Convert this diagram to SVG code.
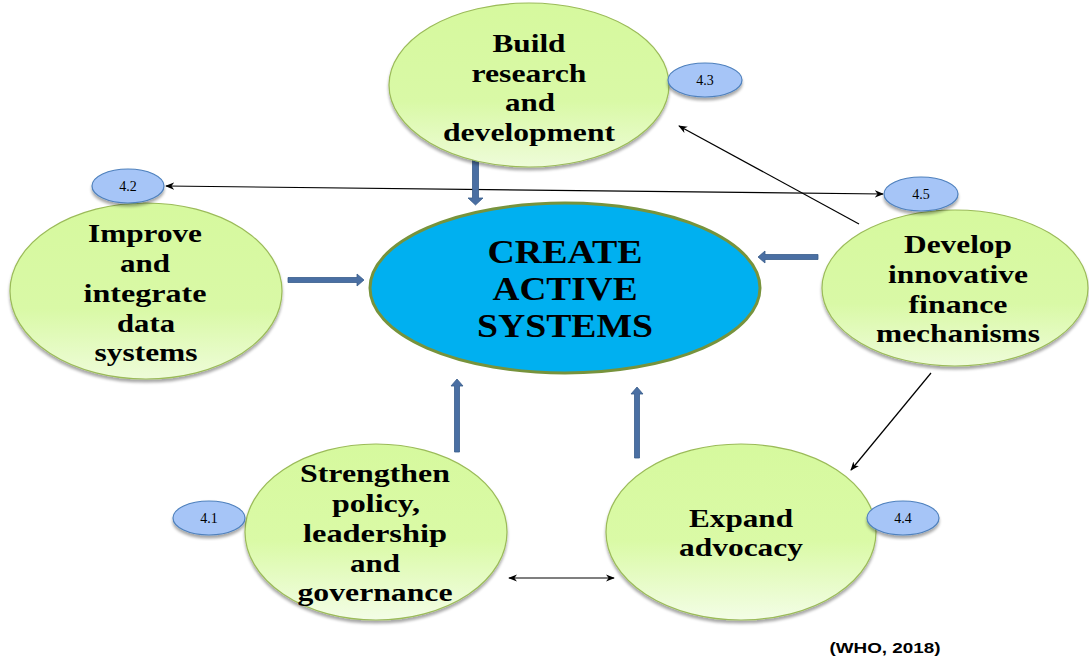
<svg xmlns="http://www.w3.org/2000/svg" width="1089" height="660" viewBox="0 0 1089 660">
<defs>
  <linearGradient id="gTop" x1="0" y1="0" x2="0" y2="1">
    <stop offset="0" stop-color="#d6f99e"/>
    <stop offset="0.6" stop-color="#d9f9a6"/>
    <stop offset="1" stop-color="#eefcd9"/>
  </linearGradient>
  <linearGradient id="gBot" x1="0" y1="0" x2="0" y2="1">
    <stop offset="0" stop-color="#d6f99e"/>
    <stop offset="0.55" stop-color="#dafaa6"/>
    <stop offset="1" stop-color="#f3fde6"/>
  </linearGradient>
  <filter id="sh" x="-10%" y="-10%" width="120%" height="125%">
    <feGaussianBlur in="SourceAlpha" stdDeviation="1.5"/>
    <feOffset dx="0" dy="2.5" result="b"/>
    <feComponentTransfer><feFuncA type="linear" slope="0.35"/></feComponentTransfer>
    <feMerge><feMergeNode/><feMergeNode in="SourceGraphic"/></feMerge>
  </filter>
  <marker id="ah" viewBox="0 0 10 10" refX="9" refY="5" markerWidth="9" markerHeight="9" markerUnits="userSpaceOnUse" orient="auto-start-reverse">
    <path d="M0,1 L10,5 L0,9 L3,5 Z" fill="#000"/>
  </marker>
</defs>
<style>
  .node { fill: url(#gTop); stroke: #9bbb59; stroke-width: 1.2; filter: url(#sh); }
  .nodeb { fill: url(#gBot); stroke: #9bbb59; stroke-width: 1.2; filter: url(#sh); }
  .badge { fill: #a6c5f7; stroke: #4f81bd; stroke-width: 1.2; filter: url(#sh); }
  .t { font-family: "Liberation Serif", "Times New Roman", serif; font-weight: bold; font-size: 25px; fill: #000; text-anchor: middle; }
  .tc { font-family: "Liberation Serif", "Times New Roman", serif; font-weight: bold; font-size: 33px; fill: #000; text-anchor: middle; }
  .tb { font-family: "Liberation Serif", "Times New Roman", serif; font-size: 14px; fill: #000; text-anchor: middle; }
  .thin { stroke: #000; stroke-width: 1.2; fill: none; }
  .blk { fill: #4a6fa3; stroke: #385d8a; stroke-width: 0.8; }
  .src { font-family: "Liberation Sans", Arial, sans-serif; font-weight: bold; font-size: 14px; fill: #000; text-anchor: middle; }
</style>

<g id="connectors">
  <line class="thin" x1="166" y1="186" x2="883" y2="194" marker-start="url(#ah)" marker-end="url(#ah)"/>
  <line class="thin" x1="859" y1="224" x2="679" y2="126" marker-end="url(#ah)"/>
  <line class="thin" x1="931" y1="373" x2="851" y2="470" marker-end="url(#ah)"/>
  <line class="thin" x1="509" y1="578" x2="614" y2="578" marker-start="url(#ah)" marker-end="url(#ah)"/>
  <polygon class="blk" points="472.5,160 478.5,160 478.5,198 483,198 475.5,205 468,198 472.5,198"/>
  <polygon class="blk" points="288,277.5 357,277.5 357,274 364,280 357,286 357,282.5 288,282.5"/>
  <polygon class="blk" points="818,254.5 765,254.5 765,251 758,257 765,263 765,259.5 818,259.5"/>
  <polygon class="blk" points="454.5,452 459.5,452 459.5,386 463,386 457,379 451,386 454.5,386"/>
  <polygon class="blk" points="634.5,458 639.5,458 639.5,394 643,394 637,387 631,394 634.5,394"/>
</g>

<g id="n-build">
  <ellipse class="node" cx="529" cy="85" rx="140" ry="82"/>
  <text class="t" x="529" y="52" textLength="73" lengthAdjust="spacingAndGlyphs">Build</text>
  <text class="t" x="529" y="82" textLength="115" lengthAdjust="spacingAndGlyphs">research</text>
  <text class="t" x="530" y="111" textLength="50" lengthAdjust="spacingAndGlyphs">and</text>
  <text class="t" x="529" y="141" textLength="172" lengthAdjust="spacingAndGlyphs">development</text>
</g>
<g id="b-43">
  <ellipse class="badge" cx="705" cy="80" rx="37" ry="17"/>
  <text class="tb" x="705" y="85">4.3</text>
</g>

<g id="n-improve">
  <ellipse class="node" cx="146" cy="291" rx="136" ry="88"/>
  <text class="t" x="145" y="242" textLength="114" lengthAdjust="spacingAndGlyphs">Improve</text>
  <text class="t" x="145" y="272" textLength="50" lengthAdjust="spacingAndGlyphs">and</text>
  <text class="t" x="145" y="302" textLength="123" lengthAdjust="spacingAndGlyphs">integrate</text>
  <text class="t" x="146" y="332" textLength="58" lengthAdjust="spacingAndGlyphs">data</text>
  <text class="t" x="146" y="361" textLength="103" lengthAdjust="spacingAndGlyphs">systems</text>
</g>
<g id="b-42">
  <ellipse class="badge" cx="128" cy="186" rx="36" ry="17"/>
  <text class="tb" x="128" y="191">4.2</text>
</g>

<g id="n-center">
  <ellipse cx="565" cy="288" rx="195" ry="85" fill="#00b0f0" stroke="#77933c" stroke-width="3"/>
  <text class="tc" x="565" y="263" textLength="155" lengthAdjust="spacingAndGlyphs">CREATE</text>
  <text class="tc" x="565" y="300" textLength="145" lengthAdjust="spacingAndGlyphs">ACTIVE</text>
  <text class="tc" x="565" y="337" textLength="176" lengthAdjust="spacingAndGlyphs">SYSTEMS</text>
</g>

<g id="n-finance">
  <ellipse class="node" cx="955" cy="288" rx="133" ry="78"/>
  <text class="t" x="958" y="253" textLength="108" lengthAdjust="spacingAndGlyphs">Develop</text>
  <text class="t" x="958" y="283" textLength="140" lengthAdjust="spacingAndGlyphs">innovative</text>
  <text class="t" x="958" y="313" textLength="99" lengthAdjust="spacingAndGlyphs">finance</text>
  <text class="t" x="958" y="342" textLength="164" lengthAdjust="spacingAndGlyphs">mechanisms</text>
</g>
<g id="b-45">
  <ellipse class="badge" cx="921" cy="194" rx="37" ry="17"/>
  <text class="tb" x="921" y="199">4.5</text>
</g>

<g id="n-strengthen">
  <ellipse class="nodeb" cx="376" cy="532" rx="131" ry="88"/>
  <text class="t" x="375" y="482" textLength="150" lengthAdjust="spacingAndGlyphs">Strengthen</text>
  <text class="t" x="376" y="512" textLength="88" lengthAdjust="spacingAndGlyphs">policy,</text>
  <text class="t" x="375" y="542" textLength="144" lengthAdjust="spacingAndGlyphs">leadership</text>
  <text class="t" x="375" y="572" textLength="50" lengthAdjust="spacingAndGlyphs">and</text>
  <text class="t" x="375" y="601" textLength="155" lengthAdjust="spacingAndGlyphs">governance</text>
</g>
<g id="b-41">
  <ellipse class="badge" cx="209" cy="518" rx="36" ry="17"/>
  <text class="tb" x="209" y="523">4.1</text>
</g>

<g id="n-advocacy">
  <ellipse class="nodeb" cx="741" cy="532" rx="135" ry="88"/>
  <text class="t" x="741" y="527" textLength="104" lengthAdjust="spacingAndGlyphs">Expand</text>
  <text class="t" x="741" y="556" textLength="124" lengthAdjust="spacingAndGlyphs">advocacy</text>
</g>
<g id="b-44">
  <ellipse class="badge" cx="903" cy="518" rx="36" ry="17"/>
  <text class="tb" x="903" y="523">4.4</text>
</g>

<text class="src" x="885" y="653" textLength="111" lengthAdjust="spacingAndGlyphs">(WHO, 2018)</text>
</svg>
